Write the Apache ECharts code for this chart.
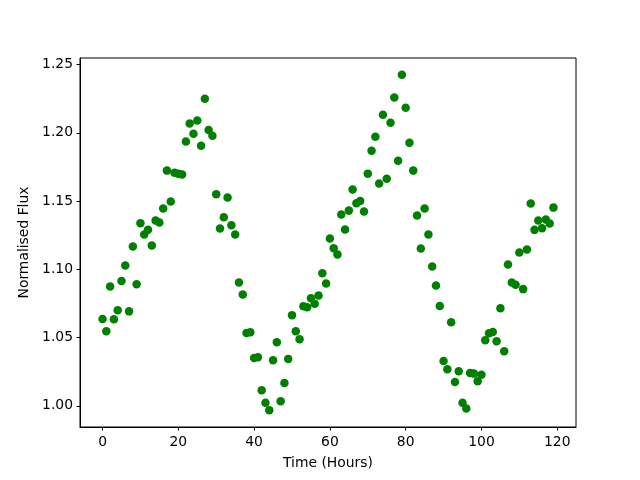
<!DOCTYPE html>
<html>
<head>
<meta charset="utf-8">
<script src="https://cdn.jsdelivr.net/npm/echarts@6/dist/echarts.min.js"></script>
<style>html,body{margin:0;padding:0;background:#fff}#c{width:640px;height:480px}</style>
</head>
<body>
<div id="c"></div>
<script>
// Hours 0..119
const hours = Array.from({length: 120}, (_, i) => i);
const flux = [
  1.0636, 1.0546, 1.0875, 1.0634, 1.0700, 1.0914, 1.1028, 1.0692, 1.1167, 1.0890,
  1.1338, 1.1255, 1.1290, 1.1175, 1.1357, 1.1343, 1.1445, 1.1723, 1.1496, 1.1708,
  1.1701, 1.1694, 1.1937, 1.2069, 1.1993, 1.2091, 1.1906, 1.2249, 1.2020, 1.1979,
  1.1550, 1.1299, 1.1382, 1.1526, 1.1323, 1.1255, 1.0904, 1.0816, 1.0534, 1.0539,
  1.0351, 1.0356, 1.0115, 1.0022, 0.9968, 1.0334, 1.0466, 1.0034, 1.0168, 1.0344,
  1.0663, 1.0546, 1.0488, 1.0729, 1.0722, 1.0789, 1.0748, 1.0809, 1.0972, 1.0897,
  1.1226, 1.1155, 1.1109, 1.1401, 1.1292, 1.1430, 1.1584, 1.1484, 1.1501, 1.1423,
  1.1701, 1.1869, 1.1971, 1.1628, 1.2132, 1.1664, 1.2074, 1.2259, 1.1796, 1.2425,
  1.2184, 1.1928, 1.1723, 1.1394, 1.1153, 1.1445, 1.1255, 1.1021, 1.0882, 1.0731,
  1.0329, 1.0268, 1.0612, 1.0175, 1.0253, 1.0022, 0.9980, 1.0241, 1.0236, 1.0181,
  1.0227, 1.0480, 1.0531, 1.0541, 1.0473, 1.0714, 1.0400, 1.1036, 1.0904, 1.0887,
  1.1124, 1.0855, 1.1145, 1.1482, 1.1289, 1.1357, 1.1301, 1.1365, 1.1336, 1.1452
];
const xTicks = [0, 20, 40, 60, 80, 100, 120];
const yTicks = [1.00, 1.05, 1.10, 1.15, 1.20, 1.25];

const points = hours.map((h, i) => [h, flux[i]]);

const font = 'DejaVu Sans';
const chart = echarts.init(document.getElementById('c'), null, {renderer: 'canvas'});
chart.setOption({
  animation: false,
  backgroundColor: '#ffffff',
  grid: {left: 80, right: 64, top: 58, bottom: 53, show: true, borderColor: '#000', borderWidth: 1, backgroundColor: 'transparent'},
  xAxis: {
    type: 'value', min: -5.95, max: 124.95,
    name: 'Time (Hours)', nameLocation: 'middle', nameGap: 29,
    nameTextStyle: {fontFamily: font, fontSize: 13.9, color: '#000'},
    splitLine: {show: false},
    axisLine: {show: true, onZero: false, lineStyle: {color: '#000', width: 1}},
    axisTick: {show: true, length: 3.5, lineStyle: {color: '#000'}, customValues: xTicks},
    axisLabel: {fontFamily: font, fontSize: 13.9, color: '#000', margin: 8, customValues: xTicks, formatter: v => String(v)}
  },
  yAxis: {
    type: 'value', min: 0.9845, max: 1.2548,
    name: 'Normalised Flux', nameLocation: 'middle', nameGap: 47,
    nameTextStyle: {fontFamily: font, fontSize: 13.9, color: '#000'},
    splitLine: {show: false},
    axisLine: {show: true, onZero: false, lineStyle: {color: '#000', width: 1}},
    axisTick: {show: true, length: 3.5, lineStyle: {color: '#000'}, customValues: yTicks},
    axisLabel: {fontFamily: font, fontSize: 13.9, color: '#000', margin: 7, customValues: yTicks, formatter: v => v.toFixed(2)}
  },
  series: [{
    type: 'scatter',
    data: points,
    symbol: 'circle',
    symbolSize: 8.5,
    itemStyle: {color: '#008000', opacity: 1}
  }]
});
</script>
</body>
</html>
